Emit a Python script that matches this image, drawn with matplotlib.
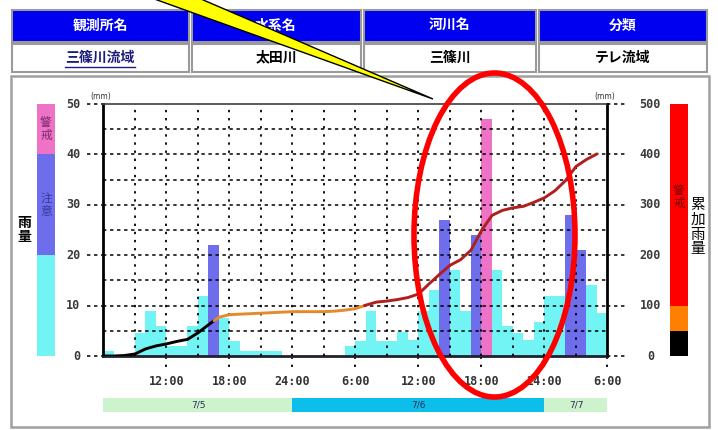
import numpy as np
import matplotlib
matplotlib.use('Agg')
import matplotlib.pyplot as plt
import matplotlib.transforms as mtransforms
from matplotlib.patches import Rectangle, Polygon, Ellipse

plt.rcParams['font.family'] = ['Noto Sans CJK JP', 'DejaVu Sans']

# ---------------- data ----------------
header_labels = ['観測所名', '水系名', '河川名', '分類']
row_values = ['三篠川流域', '太田川', '三篠川', 'テレ流域']

# hourly rainfall (mm), hour 0 = 6:00 7/5
rain_hours = np.arange(48)
rain_mm = [1, 0, 0, 4.5, 9, 6, 2, 2, 6, 12,
           22, 7.5, 3, 1, 1, 1, 1, 0, 0, 0,
           0, 0, 0, 2, 3, 9, 3, 3, 4.8, 3.2,
           9, 13, 27, 17, 9, 24, 47, 17, 6, 4.5,
           3.2, 6.8, 12, 12, 28, 21, 14, 8.5]

# cumulative rainfall (mm)
cum_hours = np.arange(48)
cum_mm = [0, 0, 1, 4, 14, 20, 24, 29, 33, 46,
          62, 77, 82, 83, 84, 85, 86, 87, 88, 88,
          88, 88, 89, 91, 94, 101, 107, 109, 112, 116,
          123, 143, 162, 180, 191, 210, 249, 279, 289, 294,
          297, 305, 314, 328, 348, 376, 390, 401]

time_ticks = [6, 12, 18, 24, 30, 36, 42, 48]
time_labels = ['12:00', '18:00', '24:00', '6:00', '12:00', '18:00', '24:00', '6:00']

day_labels = ['7/5', '7/6', '7/7']
day_start = [0, 18, 42]
day_end = [18, 42, 48]

rain_levels = [0, 20, 40, 50]
rain_level_names = ['', '注意', '警戒']
cum_levels = [0, 50, 100, 500]
cum_level_names = ['', '', '警戒']
line_breaks = [70, 100]

rain_ticks = [0, 10, 20, 30, 40, 50]
cum_ticks = [0, 100, 200, 300, 400, 500]

# ---------------- styles ----------------
C_CYAN = '#72F4F4'
C_BLUE = '#6E6EEC'
C_PINK = '#EE72C6'
rain_colors = [C_CYAN, C_BLUE, C_PINK]
cum_colors = ['#000000', '#FF8000', '#FF0000']
line_colors = ['#000000', '#E58A2C', '#B01E1E']

W, H = 718, 430
fig = plt.figure(figsize=(W / 100, H / 100), dpi=100)
fig.patch.set_facecolor('white')


def fbox(x0, y0, x1, y1):
    return [x0 / W, 1 - y1 / H, (x1 - x0) / W, (y1 - y0) / H]


def vtext(axes, x, y, chars, step, transform, **kw):
    """Vertical (stacked) text centred at (x, y); step in pixels."""
    n = len(chars)
    for k, ch in enumerate(chars):
        off = ((n - 1) / 2 - k) * step
        tr = mtransforms.offset_copy(transform, fig=fig, x=0, y=off,
                                     units='dots')
        axes.text(x, y, ch, transform=tr, ha='center', va='center', **kw)


# background layer (table + frame)
bg = fig.add_axes([0, 0, 1, 1], zorder=-5)
bg.set_xlim(0, W)
bg.set_ylim(H, 0)
bg.axis('off')

col_edges = [10, 190, 362, 537, 708]
for i in range(4):
    x0, x1 = col_edges[i], col_edges[i + 1]
    bg.add_patch(Rectangle((x0 + 1.5, 10), x1 - x0 - 3, 32, fc='#0000F0',
                           ec='#9A9A9A', lw=1.5))
    bg.add_patch(Rectangle((x0 + 1.5, 44), x1 - x0 - 3, 28, fc='white',
                           ec='#9A9A9A', lw=1.5))
    cx = (x0 + x1) / 2
    bg.text(cx, 26, header_labels[i], ha='center', va='center', color='white',
            fontsize=10, fontweight='bold')
    if i == 0:
        bg.text(cx, 57.5, row_values[i], ha='center', va='center',
                color='#1C1C7C', fontsize=10, fontweight='bold')
        bg.plot([cx - 35, cx + 35], [66.5, 66.5], color='#1C1C7C', lw=1)
    else:
        bg.text(cx, 57.5, row_values[i], ha='center', va='center',
                color='black', fontsize=10, fontweight='bold')

bg.add_patch(Rectangle((11, 76), 698, 351, fc='none', ec='#A0A0A0', lw=1.8))

# ---------------- main chart ----------------
ax = fig.add_axes(fbox(103.5, 104, 607.5, 356))
ax.set_xlim(0, 48)
ax.set_ylim(0, 50)

bar_colors = [rain_colors[np.searchsorted(rain_levels[1:3], v, side='right')]
              for v in rain_mm]
ax.bar(rain_hours, rain_mm, width=1, align='edge', color=bar_colors,
       linewidth=0, zorder=1)

for v in np.arange(5, 50, 5):
    ax.axhline(v, color='black', lw=1.1, ls=(0, (2.2, 2.4)), zorder=3)
for h in np.arange(3, 48, 3):
    ax.axvline(h, color='black', lw=1.3, ls=(0, (1.3, 3.2)), zorder=3)

ax.set_xticks([])
ax.set_yticks([])
ax.spines['left'].set_linewidth(2)
ax.spines['left'].set_color('black')
ax.spines['bottom'].set_linewidth(2)
ax.spines['bottom'].set_color('#202030')
ax.spines['top'].set_linewidth(1.2)
ax.spines['top'].set_color('#404040')
ax.spines['right'].set_linewidth(2)
ax.spines['right'].set_linestyle((0, (1, 1)))

# left ticks
ax.hlines(rain_ticks, -0.033, 0, transform=ax.get_yaxis_transform(),
          clip_on=False, color='black', lw=1.1, ls=(0, (2.2, 2.4)))
for v in rain_ticks:
    ax.text(-0.046, v, str(v), transform=ax.get_yaxis_transform(), ha='right',
            va='center', fontfamily='DejaVu Sans Mono', fontweight='bold',
            fontsize=8.5, color='#3A3A3A')
# bottom ticks
ax.vlines(time_ticks, -0.045, 0, transform=ax.get_xaxis_transform(),
          clip_on=False, color='black', lw=1.3, ls=(0, (1.3, 3.2)))
for t, lab in zip(time_ticks, time_labels):
    ax.text(t, -0.1, lab, transform=ax.get_xaxis_transform(), ha='center',
            va='center', fontfamily='DejaVu Sans Mono', fontweight='bold',
            fontsize=8.5, color='#333333')
ax.text(-0.005, 1.03, '(mm)', transform=ax.transAxes, ha='center', va='center',
        fontsize=5.5, fontfamily='DejaVu Sans', color='#333333')
ax.text(0.995, 1.03, '(mm)', transform=ax.transAxes, ha='center', va='center',
        fontsize=5.5, fontfamily='DejaVu Sans', color='#333333')

# cumulative axis
ax2 = ax.twinx()
ax2.set_ylim(0, 500)
ax2.set_yticks([])
for s in ax2.spines.values():
    s.set_visible(False)
ax2.hlines(cum_ticks, 1, 1.035, transform=ax2.get_yaxis_transform(),
           clip_on=False, color='black', lw=1.1, ls=(0, (2.2, 2.4)))
for v in cum_ticks:
    ax2.text(1.085, v, str(v), transform=ax2.get_yaxis_transform(), ha='center',
             va='center', fontfamily='DejaVu Sans Mono', fontweight='bold',
             fontsize=8.5, color='#3A3A3A')


def split_by_levels(x, y, levels):
    def band(v):
        return int(np.searchsorted(levels, v, side='right'))
    pieces = []
    cx, cy = [x[0]], [y[0]]
    cb = band(y[0])
    for i in range(1, len(x)):
        x0, y0, x1, y1 = x[i - 1], y[i - 1], x[i], y[i]
        b1 = band(y1)
        while b1 != cb:
            lev = levels[cb] if b1 > cb else levels[cb - 1]
            tt = (lev - y0) / (y1 - y0)
            xc = x0 + tt * (x1 - x0)
            cx.append(xc)
            cy.append(lev)
            pieces.append((cx, cy, cb))
            cb = cb + 1 if b1 > cb else cb - 1
            cx, cy = [xc], [lev]
        cx.append(x1)
        cy.append(y1)
    pieces.append((cx, cy, cb))
    return pieces


for px, py, b in split_by_levels(list(cum_hours), list(cum_mm), line_breaks):
    ax2.plot(px, py, color=line_colors[b], lw=2.1, solid_capstyle='round',
             zorder=5)

# date band
bax = fig.add_axes(fbox(103.5, 398, 607.5, 412))
bax.set_xlim(0, 48)
bax.set_ylim(0, 1)
bax.axis('off')
day_colors = ['#CDF3CD', '#0CBEEA', '#CDF3CD']
for lab, s, e, c in zip(day_labels, day_start, day_end, day_colors):
    bax.barh(0.5, e - s, left=s, height=1, color=c, linewidth=0)
    bax.text((s + e) / 2, 0.5, lab, ha='center', va='center', fontsize=6.5,
             color='#2A2A55', fontfamily='DejaVu Sans')

# left legend bar
lax = fig.add_axes(fbox(37, 104, 55, 356))
lax.set_ylim(0, 50)
lax.set_xlim(-0.5, 0.5)
lax.axis('off')
lax.bar([0] * 3, np.diff(rain_levels), bottom=rain_levels[:-1], width=1,
        color=rain_colors, linewidth=0)
name_colors = ['black', '#3A3AA0', '#7A2A6A']
for i, nm in enumerate(rain_level_names):
    if nm:
        vtext(lax, 0, (rain_levels[i] + rain_levels[i + 1]) / 2, nm, 13,
              lax.transData, fontsize=8.5, color=name_colors[i])
vtext(bg, 24, 230, '雨量', 14, bg.transData, fontsize=10, fontweight='bold',
      color='black')

# right legend bar
rax = fig.add_axes(fbox(670, 104, 688, 356))
rax.set_ylim(0, 500)
rax.set_xlim(-0.5, 0.5)
rax.axis('off')
rax.bar([0] * 3, np.diff(cum_levels), bottom=cum_levels[:-1], width=1,
        color=cum_colors, linewidth=0)
for i, nm in enumerate(cum_level_names):
    if nm:
        vtext(rax, 0, 315, nm, 13, rax.transData, fontsize=8.5,
              color='#7A0000')
vtext(bg, 698, 227, '累加雨量', 15, bg.transData, fontsize=10.5,
      color='black')

# ---------------- overlay annotations ----------------
ov = fig.add_axes([0, 0, 1, 1], zorder=20)
ov.set_xlim(0, W)
ov.set_ylim(H, 0)
ov.axis('off')
ov.patch.set_visible(False)
ov.add_patch(Polygon([(146, -4), (194, -4), (433, 99)], closed=True,
                     fc='#FFFF00', ec='black', lw=1))
ov.add_patch(Ellipse((494.5, 235), 161, 324, fill=False, ec='#FF0000', lw=4))

fig.savefig('out.png', dpi=100, facecolor='white')
